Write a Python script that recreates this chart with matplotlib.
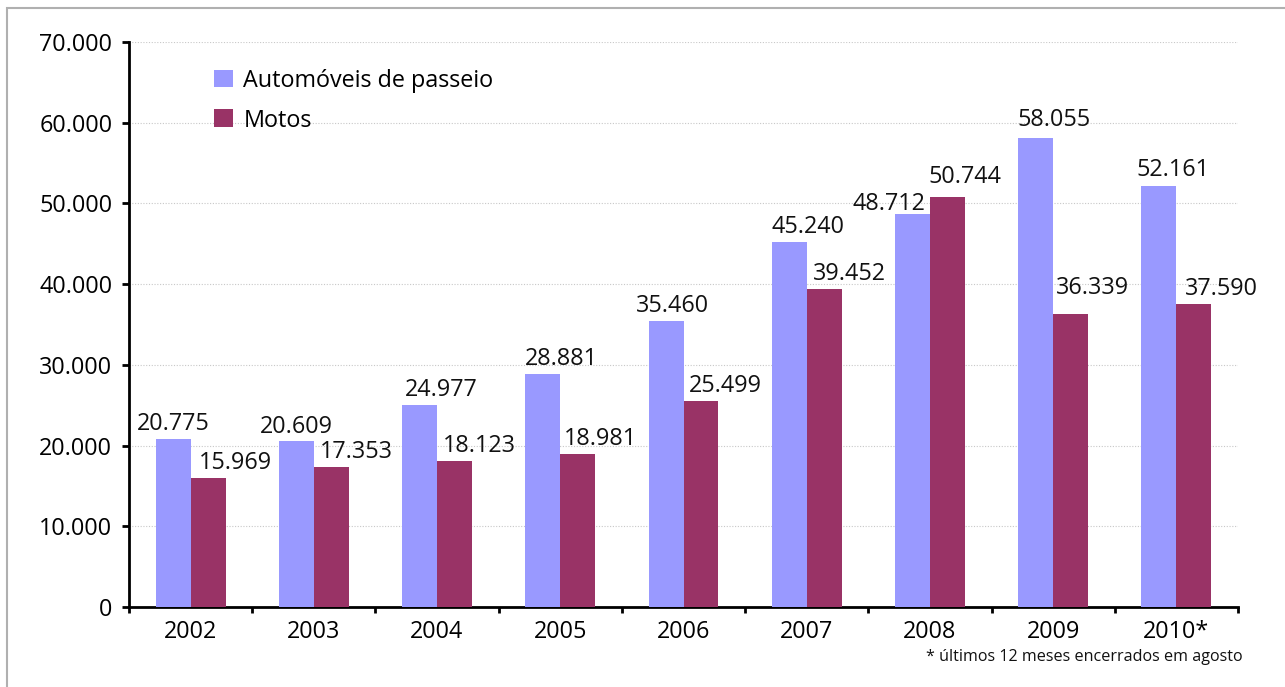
import matplotlib.pyplot as plt
from matplotlib.patches import Rectangle
import numpy as np

# data
anos = ["2002", "2003", "2004", "2005", "2006", "2007", "2008", "2009", "2010*"]
automoveis = [20775, 20609, 24977, 28881, 35460, 45240, 48712, 58055, 52161]
motos = [15969, 17353, 18123, 18981, 25499, 39452, 50744, 36339, 37590]

# label nudges (pixels) as placed in the original
auto_dx = [0, 0, 22, 19, 6, 19, -24, 18, 14]
auto_dy = [9, 8, 9, 9, 9, 9, 4, 12, 10]
motos_dx = [27, 25, 25, 23, 24, 25, 17, 22, 28]
motos_dy = [9, 9, 9, 9, 9, 9, 14, 20, 9]

cor_auto = "#9999FF"
cor_motos = "#993366"

plt.rcParams['font.family'] = ['Open Sans', 'DejaVu Sans']
fs = 16.8

def fmt(v):
    return f"{v:,}".replace(",", ".")

fig = plt.figure(figsize=(12.85, 6.87), dpi=100)
ax = fig.add_axes([129 / 1285, 1 - 607 / 687, (1238 - 129) / 1285, (607 - 42) / 687])

# outer frame (partly cut off like the original)
fig.patches.append(Rectangle((7 / 1285, -0.1), 1.2, 1 - 8 / 687 + 0.1,
                             transform=fig.transFigure, fill=False,
                             edgecolor="#b0b0b0", linewidth=1.5))

x = np.arange(len(anos))
w = 0.284
b1 = ax.bar(x - w / 2, automoveis, w, color=cor_auto, label="Automóveis de passeio", zorder=3)
b2 = ax.bar(x + w / 2, motos, w, color=cor_motos, label="Motos", zorder=3)

px = 72 / 100
for i in range(len(anos)):
    ax.annotate(fmt(automoveis[i]), (x[i] - w / 2, automoveis[i]),
                xytext=(auto_dx[i] * px, auto_dy[i] * px), textcoords="offset points",
                ha="center", va="baseline", fontsize=fs, color="#111111")
    ax.annotate(fmt(motos[i]), (x[i] + w / 2, motos[i]),
                xytext=(motos_dx[i] * px, motos_dy[i] * px), textcoords="offset points",
                ha="center", va="baseline", fontsize=fs, color="#111111")

ax.set_xlim(-0.5, len(anos) - 0.5)
ax.set_ylim(0, 70000)
ax.set_yticks(range(0, 70001, 10000))
ax.set_yticklabels([fmt(v) for v in range(0, 70001, 10000)], fontsize=fs)
ax.yaxis.grid(True, linestyle=(0, (1, 1.5)), color="#c8c8c8", linewidth=0.8, zorder=0)
ax.set_axisbelow(True)

# x ticks at category boundaries, labels at centres
ax.set_xticks(np.arange(-0.5, len(anos), 1))
ax.set_xticklabels([])
ax.set_xticks(x, minor=True)
ax.set_xticklabels(anos, minor=True, fontsize=fs)
ax.tick_params(axis="x", which="minor", length=0, pad=9)
ax.tick_params(axis="x", which="major", length=4.3, width=2, direction="out")
ax.tick_params(axis="y", length=5, width=2, direction="out", pad=7)

for s in ["top", "right"]:
    ax.spines[s].set_visible(False)
for s in ["left", "bottom"]:
    ax.spines[s].set_linewidth(2)

leg = ax.legend(loc="upper left", bbox_to_anchor=(0.058, 0.99), frameon=False,
                fontsize=fs, handlelength=0.8, handleheight=0.8,
                handletextpad=0.45, labelspacing=0.68)

fig.text(1243 / 1285, 1 - 657 / 687, "* últimos 12 meses encerrados em agosto",
         ha="right", va="center", fontsize=11.6, color="#111111")

fig.savefig("out.png", dpi=100)
